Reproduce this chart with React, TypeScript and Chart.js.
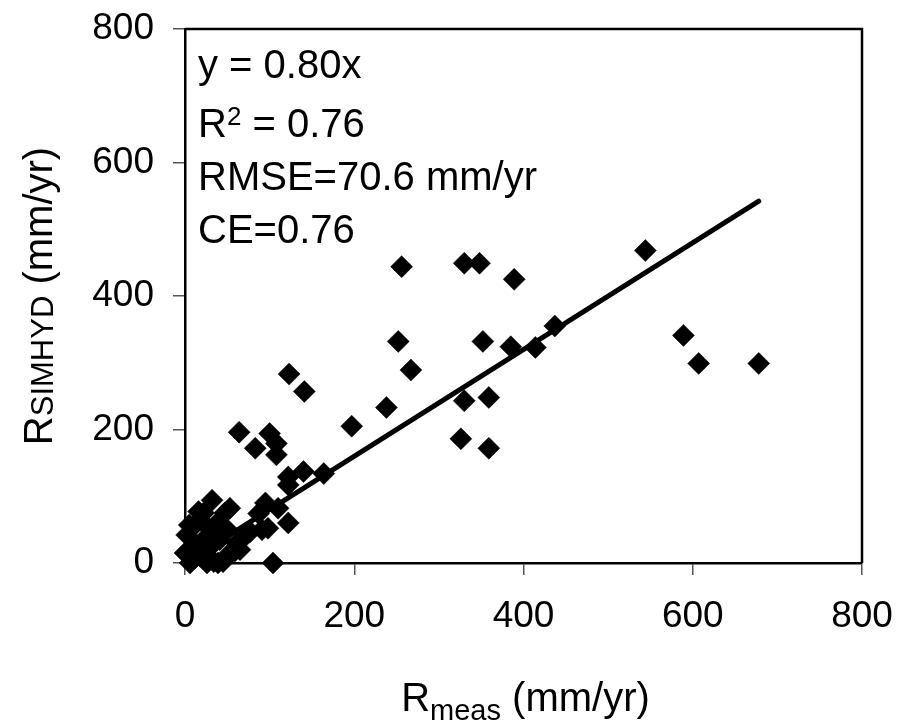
import React, { useEffect, useRef } from "react";
import { Chart, registerables } from "chart.js";

Chart.register(...registerables);

// Measured runoff (x) and SIMHYD simulated runoff (y), mm/yr
const measured = [
  544, 437, 414, 589, 607, 678, 256, 330, 348, 389, 252, 352, 385, 267, 238, 197, 330, 359, 326, 359,
  123, 141, 64, 83, 100, 108, 108, 164, 140, 122, 122, 95, 110, 122, 91, 104, 65, 87,
  32, 53, 14, 2, 0, 6, 34, 45, 53, 61, 77, 41, 22, 38, 22, 30, 10, 47, 18, 26, 39, 59, 71, 98,
  5, 28, 16, 12, 50, 35,
];
const simulated = [
  468, 355, 323, 341, 299, 299, 444, 449, 449, 425, 332, 332, 324, 289, 233, 205, 243, 248, 186, 172,
  283, 257, 196, 172, 194, 179, 162, 134, 137, 129, 117, 90, 82, 60, 50, 0, 20, 74,
  94, 82, 60, 42, 15, 0, 2, 2, 15, 30, 47, 35, 35, 60, 75, 24, 24, 75, 10, 0, 0, 18, 40, 52,
  57, 52, 77, 8, 50, 45,
];
// Regression line y = 0.80x end points
const trendX = [0, 678];
const trendY = [0, 542];

const axisMin = 0;
const axisMax = 800;
const axisStep = 200;

const statLine1 = "y = 0.80x";
const statLine2Base = "R";
const statLine2Sup = "2";
const statLine2Rest = " = 0.76";
const statLine3 = "RMSE=70.6 mm/yr";
const statLine4 = "CE=0.76";

const xTitleMain = "R";
const xTitleSub = "meas";
const xTitleRest = " (mm/yr)";
const yTitleMain = "R";
const yTitleSub = "SIMHYD";
const yTitleRest = " (mm/yr)";

const FONT = "'Liberation Sans', Arial, Helvetica, sans-serif";

const decorPlugin = {
  id: "decor",
  afterDraw(chart: any) {
    const ctx = chart.ctx as CanvasRenderingContext2D;
    const a = chart.chartArea;
    ctx.save();
    // box: top & right
    ctx.strokeStyle = "#000";
    ctx.lineWidth = 2.5;
    ctx.beginPath();
    ctx.moveTo(a.left, a.top);
    ctx.lineTo(a.right, a.top);
    ctx.lineTo(a.right, a.bottom);
    ctx.stroke();

    ctx.fillStyle = "#000";
    ctx.textAlign = "left";
    ctx.textBaseline = "alphabetic";
    const big = `40px ${FONT}`;
    const tx = a.left + 13;
    ctx.font = big;
    ctx.fillText(statLine1, tx, 78);
    ctx.fillText(statLine2Base, tx, 137);
    const w = ctx.measureText(statLine2Base).width;
    ctx.font = `26px ${FONT}`;
    ctx.fillText(statLine2Sup, tx + w, 125);
    const ws = ctx.measureText(statLine2Sup).width;
    ctx.font = big;
    ctx.fillText(statLine2Rest, tx + w + ws, 137);
    ctx.fillText(statLine3, tx, 190);
    ctx.fillText(statLine4, tx, 243);

    const drawTitle = (main: string, sub: string, rest: string, subSize: number, subShift: number) => {
      ctx.font = big;
      const w1 = ctx.measureText(main).width;
      const w3 = ctx.measureText(rest).width;
      ctx.font = `${subSize}px ${FONT}`;
      const w2 = ctx.measureText(sub).width;
      const total = w1 + w2 + w3;
      let x = -total / 2;
      ctx.font = big;
      ctx.fillText(main, x, 0);
      x += w1;
      ctx.font = `${subSize}px ${FONT}`;
      ctx.fillText(sub, x, subShift);
      x += w2;
      ctx.font = big;
      ctx.fillText(rest, x, 0);
    };
    ctx.save();
    ctx.translate((a.left + a.right) / 2 + 2, 711);
    drawTitle(xTitleMain, xTitleSub, xTitleRest, 29, 9);
    ctx.restore();

    ctx.save();
    ctx.translate(52, (a.top + a.bottom) / 2);
    ctx.rotate(-Math.PI / 2);
    drawTitle(yTitleMain, yTitleSub, yTitleRest, 31, 1);
    ctx.restore();

    ctx.restore();
  },
};

export default function App() {
  const ref = useRef<HTMLCanvasElement | null>(null);
  useEffect(() => {
    if (!ref.current) return;
    const points = measured.map((x, i) => ({ x, y: simulated[i] }));
    const trend = trendX.map((x, i) => ({ x, y: trendY[i] }));
    const tickFont = { family: FONT, size: 37 };
    const chart = new Chart(ref.current, {
      type: "scatter",
      data: {
        datasets: [
          {
            type: "line",
            data: trend,
            showLine: true,
            borderColor: "#000",
            borderWidth: 5,
            borderCapStyle: "round",
            pointRadius: 0,
            fill: false,
          } as any,
          {
            data: points,
            pointStyle: "rectRot",
            pointRadius: 11,
            pointBackgroundColor: "#000",
            pointBorderColor: "#000",
            pointBorderWidth: 0.5,
            clip: false,
          } as any,
        ],
      },
      options: {
        animation: false,
        responsive: false,
        events: [],
        layout: { padding: { top: 29, right: 49, left: 0, bottom: 0 } },
        plugins: { legend: { display: false }, tooltip: { enabled: false } },
        scales: {
          x: {
            type: "linear",
            min: axisMin,
            max: axisMax,
            ticks: { stepSize: axisStep, font: tickFont, color: "#000", padding: 20, maxRotation: 0 },
            grid: { drawOnChartArea: false, drawTicks: true, tickLength: 12, color: "#555", lineWidth: 1.5 },
            border: { display: true, color: "#000", width: 2.5 },
            afterFit(scale: any) {
              scale.height = 159;
              scale.paddingLeft = 0;
              scale.paddingRight = 0;
            },
          },
          y: {
            type: "linear",
            min: axisMin,
            max: axisMax,
            ticks: { stepSize: axisStep, font: tickFont, color: "#000", padding: 19 },
            grid: { drawOnChartArea: false, drawTicks: true, tickLength: 12, color: "#555", lineWidth: 1.5 },
            border: { display: true, color: "#000", width: 2.5 },
            afterFit(scale: any) {
              scale.width = 185;
              scale.paddingTop = 0;
              scale.paddingBottom = 0;
            },
          },
        },
      },
      plugins: [decorPlugin],
    });
    return () => chart.destroy();
  }, []);
  return (
    <div style={{ position: "fixed", left: 0, top: 0, width: 911, height: 722, background: "#fff" }}>
      <canvas ref={ref} width={911} height={722} style={{ display: "block" }} />
    </div>
  );
}
